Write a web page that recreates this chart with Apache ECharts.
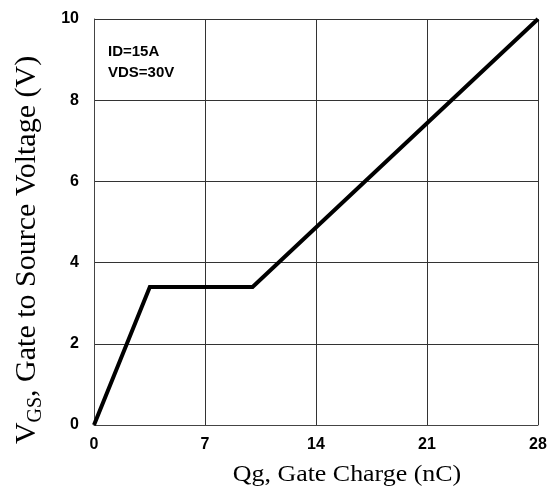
<!DOCTYPE html>
<html><head><meta charset="utf-8">
<script src="https://cdn.jsdelivr.net/npm/echarts@6/dist/echarts.min.js"></script>
<style>html,body{margin:0;padding:0;background:#fff}#c{width:553px;height:488px}</style>
</head><body><div id="c"></div>
<script>
const qg = [0, 3.52, 10.0, 28];
const vgs = [0, 3.4, 3.4, 10];
const xTicks = [0, 7, 14, 21, 28];
const yTicks = [0, 2, 4, 6, 8, 10];
const notes = ['ID=15A', 'VDS=30V'];

const chart = echarts.init(document.getElementById('c'), null, {renderer: 'canvas'});
const tickFont = {fontFamily: '"Liberation Sans Narrow", "Arial Narrow", "Liberation Sans", sans-serif', fontWeight: 'bold', fontSize: 16, color: '#000'};
chart.setOption({
  animation: false,
  grid: {left: 94, right: 15, top: 19, bottom: 63},
  xAxis: {
    type: 'value', min: 0, max: 28, interval: 7,
    axisLine: {show: true, lineStyle: {color: '#444', width: 1}},
    axisTick: {show: false},
    splitLine: {show: true, lineStyle: {color: '#333', width: 1}},
    axisLabel: Object.assign({margin: 12}, tickFont)
  },
  yAxis: {
    type: 'value', min: 0, max: 10, interval: 2,
    axisLine: {show: true, lineStyle: {color: '#444', width: 1}},
    axisTick: {show: false},
    splitLine: {show: true, lineStyle: {color: '#333', width: 1}},
    axisLabel: Object.assign({margin: 15}, tickFont)
  },
  series: [{
    type: 'line',
    data: qg.map((x, i) => [x, vgs[i]]),
    showSymbol: false,
    lineStyle: {color: '#000', width: 4, join: 'miter'},
    clip: false
  }],
  graphic: [
    {type: 'text', left: 108, top: 44, style: {text: notes[0], font: 'bold 15px "Liberation Sans", Arial, sans-serif', fill: '#000'}},
    {type: 'text', left: 108, top: 65, style: {text: notes[1], font: 'bold 15px "Liberation Sans", Arial, sans-serif', fill: '#000'}},
    {type: 'text', x: 347, y: 475, scaleX: 1.08,
     style: {text: 'Qg, Gate Charge (nC)', font: '24px "Liberation Serif", "Times New Roman", serif', fill: '#000', align: 'center', verticalAlign: 'middle'}},
    {type: 'text', x: 27, y: 250, rotation: Math.PI / 2,
     style: {
       text: '{v|V}{s|GS}{v|, Gate to Source Voltage (V)}',
       align: 'center', verticalAlign: 'middle', fill: '#000',
       rich: {
         v: {font: '30px "Liberation Serif", "Times New Roman", serif', fill: '#000', verticalAlign: 'bottom'},
         s: {font: '20px "Liberation Serif", "Times New Roman", serif', fill: '#000', verticalAlign: 'bottom', padding: [0, 0, -4, 0]}
       }
     }}
  ]
});
</script></body></html>
